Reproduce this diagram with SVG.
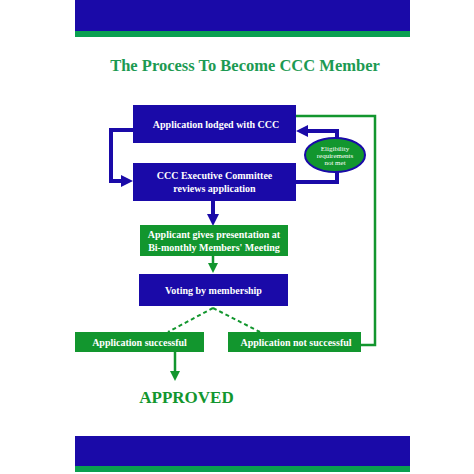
<svg xmlns="http://www.w3.org/2000/svg" width="474" height="474" viewBox="0 0 474 474">
<defs>
<style>
.blue{fill:#1a0aa8}
.green{fill:#12962e}
.t{font-family:"Liberation Serif","DejaVu Serif",serif;font-weight:bold;fill:#fff;font-size:10px;text-anchor:middle}
.bl{stroke:#1a0aa8;stroke-width:4;fill:none}
.gl{stroke:#12962e;stroke-width:2.5;fill:none}
</style>
<marker id="ab" markerWidth="3" markerHeight="3" refX="1" refY="1.5" orient="auto" markerUnits="strokeWidth"><path d="M0,0 L3,1.5 L0,3 Z" fill="#1a0aa8"/></marker>
<marker id="ag" markerWidth="4" markerHeight="4" refX="2" refY="2" orient="auto" markerUnits="strokeWidth"><path d="M0,0 L4,2 L0,4 Z" fill="#12962e"/></marker>
</defs>
<rect width="474" height="474" fill="#fff"/>
<g id="header">
<rect x="75" y="0" width="335" height="31" class="blue"/>
<rect x="75" y="31" width="335" height="6" fill="#0aa050"/>
</g>
<text x="245" y="71" style="font-family:'Liberation Serif','DejaVu Serif',serif;font-weight:bold;font-size:16.5px;fill:#1c9a52;text-anchor:middle">The Process To Become CCC Member</text>
<g id="connectors">
<polyline class="bl" points="133,130 111,130 111,181 125,181" marker-end="url(#ab)"/>
<polyline class="bl" points="296,182 337,182 337,131 304,131" marker-end="url(#ab)"/>
<polyline class="gl" points="296,116 375,116 375,345 361,345"/>
<line class="bl" x1="213" y1="201" x2="213" y2="218" marker-end="url(#ab)"/>
<line class="gl" x1="213" y1="256" x2="213" y2="268" marker-end="url(#ag)"/>
<line x1="213" y1="308" x2="168" y2="332" stroke="#12962e" stroke-width="2" stroke-dasharray="4,3"/>
<line x1="213" y1="308" x2="260" y2="332" stroke="#12962e" stroke-width="2" stroke-dasharray="4,3"/>
<line class="gl" x1="175" y1="352" x2="175" y2="376" marker-end="url(#ag)"/>
</g>
<g id="n1">
<rect x="133" y="105" width="163" height="38" class="blue"/>
<text class="t" x="216" y="128">Application lodged with CCC</text>
</g>
<g id="n2">
<rect x="133" y="163" width="163" height="38" class="blue"/>
<text class="t" x="214.5" y="179">CCC Executive Committee</text>
<text class="t" x="214.5" y="192">reviews application</text>
</g>
<g id="n_elig">
<ellipse cx="335" cy="155" rx="30" ry="17" fill="#12962e" stroke="#1a0aa8" stroke-width="2"/>
<text class="t" style="font-weight:normal;font-size:7px" x="335" y="151">Eligibility</text>
<text class="t" style="font-weight:normal;font-size:7px" x="335" y="158">requirements</text>
<text class="t" style="font-weight:normal;font-size:7px" x="335" y="165">not met</text>
</g>
<g id="n3">
<rect x="140" y="225" width="148" height="31" class="green"/>
<text class="t" x="214" y="238">Applicant gives presentation at</text>
<text class="t" x="214" y="251">Bi-monthly Members' Meeting</text>
</g>
<g id="n4">
<rect x="139" y="274" width="149" height="32" class="blue"/>
<text class="t" x="213.5" y="294">Voting by membership</text>
</g>
<g id="n5">
<rect x="75" y="332" width="129" height="20" class="green"/>
<text class="t" x="139.5" y="346">Application successful</text>
</g>
<g id="n6">
<rect x="228" y="332" width="133" height="20" class="green"/>
<text class="t" x="296" y="346">Application not successful</text>
</g>
<text x="186.5" y="403" style="font-family:'Liberation Serif','DejaVu Serif',serif;font-weight:bold;font-size:17px;fill:#12962e;text-anchor:middle">APPROVED</text>
<g id="footer">
<rect x="75" y="436" width="335" height="30" class="blue"/>
<rect x="75" y="466" width="335" height="6" fill="#0aa050"/>
</g>
</svg>
